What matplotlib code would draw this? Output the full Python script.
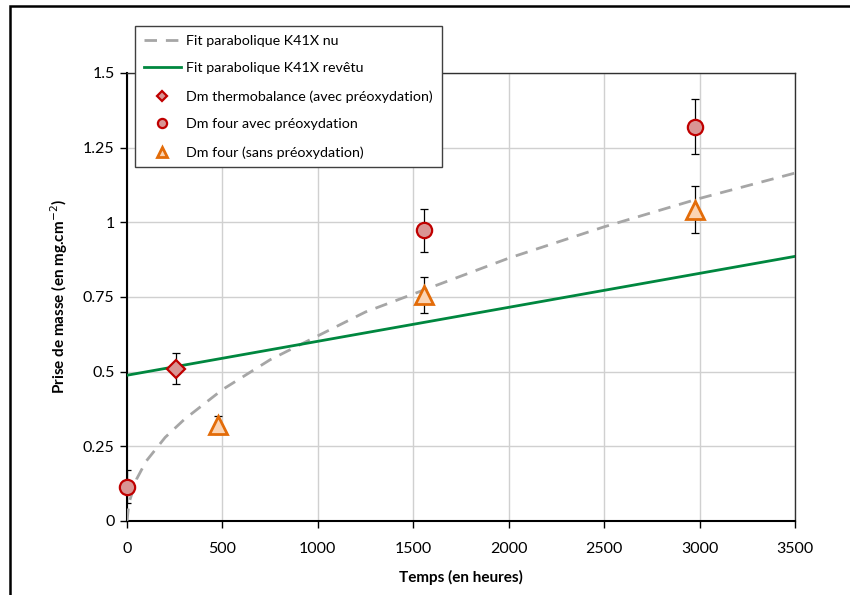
import matplotlib
matplotlib.use('Agg')
import matplotlib.pyplot as plt
from matplotlib.patches import Rectangle

plt.rcParams['font.family'] = ['Lato', 'DejaVu Sans']

# fit curves
fit_nu_t = [0, 10, 50, 100, 200, 300, 500, 750, 1000, 1250, 1500, 2000, 2500, 3000, 3500]
fit_nu_y = [0, 0.06, 0.14, 0.20, 0.28, 0.34, 0.44, 0.54, 0.62, 0.70, 0.76, 0.88, 0.985, 1.08, 1.165]
fit_rev_t = [0, 3500]
fit_rev_y = [0.488, 0.886]

# measurements
thermo_t = [257]
thermo_y = [0.51]
thermo_err = [0.052]

four_avec_t = [0, 1558, 2978]
four_avec_y = [0.115, 0.973, 1.32]
four_avec_err = [0.055, 0.073, 0.092]

four_sans_t = [478, 1558, 2978]
four_sans_y = [0.32, 0.757, 1.042]
four_sans_err = [0.03, 0.06, 0.078]

x_ticks = [0, 500, 1000, 1500, 2000, 2500, 3000, 3500]
y_ticks = [0, 0.25, 0.5, 0.75, 1, 1.25, 1.5]
y_labels = ['0', '0.25', '0.5', '0.75', '1', '1.25', '1.5']

fig = plt.figure(figsize=(8.5, 5.95), dpi=100)
ax = fig.add_axes([127 / 850, 1 - 521 / 595, 668 / 850, 448 / 595])

l1, = ax.plot(fit_nu_t, fit_nu_y, color='#a6a6a6', lw=2.0, dashes=(4.5, 3.2),
              label='Fit parabolique K41X nu', zorder=3)
l2, = ax.plot(fit_rev_t, fit_rev_y, color='#00873f', lw=2.0,
              label='Fit parabolique K41X revêtu', zorder=3)

err_kw = dict(fmt='none', ecolor='black', elinewidth=0.9, capsize=3, capthick=0.9, zorder=4)
ax.errorbar(thermo_t, thermo_y, yerr=thermo_err, **err_kw)
ax.errorbar(four_avec_t, four_avec_y, yerr=four_avec_err, **err_kw)
ax.errorbar(four_sans_t, four_sans_y, yerr=four_sans_err, **err_kw)

m1, = ax.plot(thermo_t, thermo_y, ls='none', marker='D', ms=9, mfc='#d99594', mec='#c00000',
              mew=1.6, label='Dm thermobalance (avec préoxydation)', zorder=5, clip_on=False)
m2, = ax.plot(four_avec_t, four_avec_y, ls='none', marker='o', ms=11, mfc='#d99594', mec='#c00000',
              mew=1.6, label='Dm four avec préoxydation', zorder=5, clip_on=False)
m3, = ax.plot(four_sans_t, four_sans_y, ls='none', marker='^', ms=13, mfc='#fbd4b4', mec='#e36c09',
              mew=2.0, label='Dm four (sans préoxydation)', zorder=5, clip_on=False)

ax.set_xlim(0, 3500)
ax.set_ylim(0, 1.5)
ax.set_xticks(x_ticks)
ax.set_yticks(y_ticks)
ax.set_yticklabels(y_labels)
ax.tick_params(direction='out', length=5, width=1, color='black', labelsize=11.5, pad=4)
ax.tick_params(axis='x', pad=10)
ax.grid(True, color='#d0d0d0', lw=1)
ax.set_axisbelow(True)
for s in ['left', 'bottom']:
    ax.spines[s].set_linewidth(1.5)
    ax.spines[s].set_color('black')
for s in ['top', 'right']:
    ax.spines[s].set_linewidth(1)
    ax.spines[s].set_color('#303030')

ax.set_xlabel('Temps (en heures)', fontsize=11, fontweight='bold', labelpad=10)
ax.set_ylabel('Prise de masse (en mg.cm$^{-2}$)', fontsize=11, fontweight='bold', labelpad=9)

leg = fig.legend(handles=[l1, l2, m1, m2, m3], loc='upper left',
                 bbox_to_anchor=(135 / 850, 1 - 26 / 595), bbox_transform=fig.transFigure,
                 fontsize=10.3, frameon=True, fancybox=False, edgecolor='#404040',
                 framealpha=1, markerscale=0.6, handlelength=2.6, handletextpad=0.4,
                 labelspacing=1.1, borderpad=0.6, borderaxespad=0)
leg.get_frame().set_linewidth(1)
leg.set_zorder(10)

fig.patches.append(Rectangle((10 / 850, -0.1), 1.2, 1.1 - 6 / 595, transform=fig.transFigure,
                             fill=False, edgecolor='black', lw=1.8))

plt.savefig('out.png', dpi=100)
